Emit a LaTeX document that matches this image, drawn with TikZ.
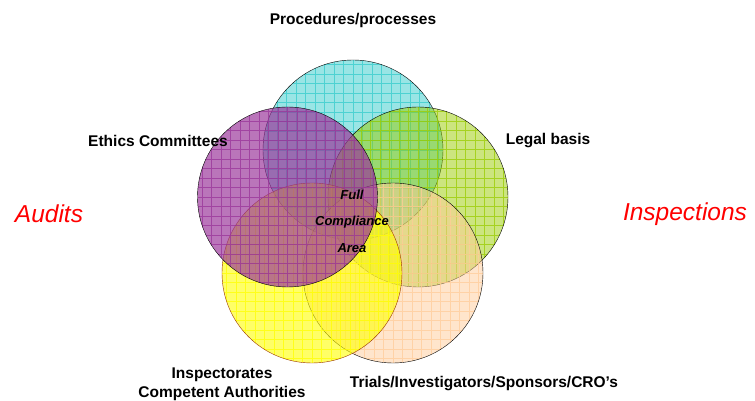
\documentclass[tikz,border=0pt]{standalone}
\usepackage{fontspec}
\setmainfont{Liberation Sans}
\definecolor{cyancol}{RGB}{51,204,204}
\definecolor{purplecol}{RGB}{153,51,153}
\definecolor{greencol}{RGB}{153,204,0}
\definecolor{yellowcol}{RGB}{255,255,0}
\definecolor{peachcol}{RGB}{255,204,153}
\definecolor{rimred}{RGB}{153,51,0}
\begin{document}
\begin{tikzpicture}[x=1pt, y=1pt,
            venn/.style={circle, draw=black, thin, inner sep=0pt, minimum size=180pt,
                fill=#1, fill opacity=0.5,
                path picture={\draw[#1, line width=0.7pt, opacity=0.75, step=9.5pt]
                    (path picture bounding box.south west) grid (path picture bounding box.north east);}},
            label/.style={font=\fontsize{15.5}{18}\selectfont\bfseries, align=center, inner sep=0pt},
            side/.style={font=\fontsize{24.5}{28}\selectfont\itshape, text=red, inner sep=0pt},
            core/.style={font=\fontsize{13}{15}\selectfont\bfseries\itshape, inner sep=0pt}
        ]
            \useasboundingbox (0,0) rectangle (755,401);

            % Circles
            \node[venn=cyancol] (proc) at (353,251) {};
            \node[venn=greencol] (legal) at (418,204) {};
            \node[venn=peachcol] (trials) at (393,128) {};
            \node[venn=yellowcol, draw=rimred, fill opacity=0.6] (insp) at (312,128) {};
            \node[venn=purplecol, fill opacity=0.68] (ethics) at (287.5,204) {};

            % Labels of the circles
            \node[label] (proc-text) at (353,381) {Procedures/processes};
            \node[label] (ethics-text) at (158,260) {Ethics Committees};
            \node[label] (legal-text) at (548,260) {Legal basis};
            \node[label] (insp-text) at (222,26) {Inspectorates};
            \node[label] (auth-text) at (222,8) {Competent Authorities};
            \node[label] (trials-text) at (484,17) {Trials/Investigators/Sponsors/CRO’s};

            % Both sides
            \node[side] (audits) at (49,187) {Audits};
            \node[side] (inspections) at (685,187) {Inspections};

            % Centre
            \node[core] (full) at (352,206) {Full};
            \node[core] (compliance) at (352,179) {Compliance};
            \node[core] (area) at (352,153) {Area};
        \end{tikzpicture}
\end{document}
